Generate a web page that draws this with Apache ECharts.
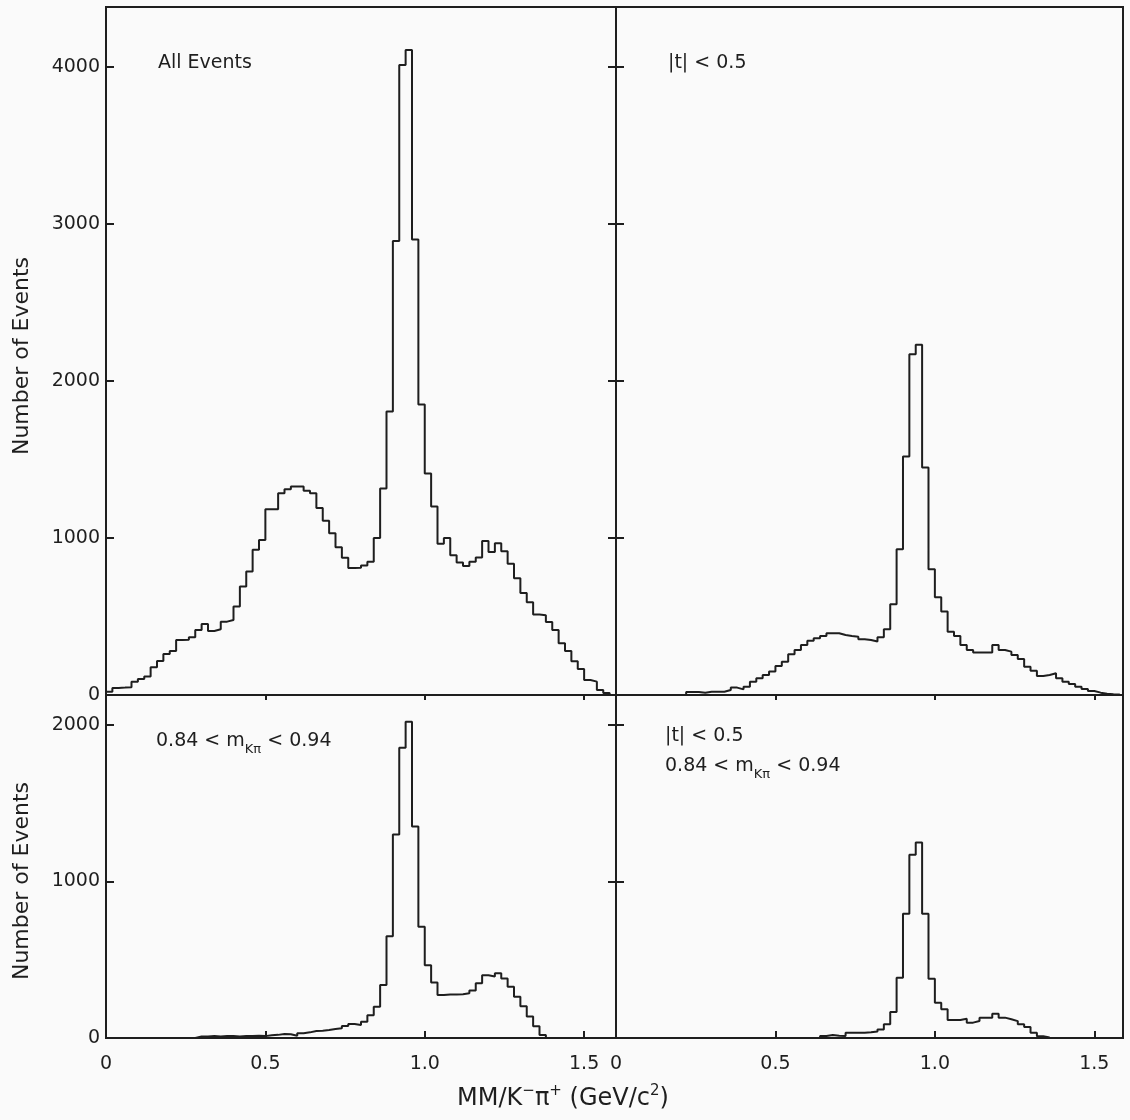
<!DOCTYPE html>
<html>
<head>
<meta charset="utf-8">
<script src="https://cdn.jsdelivr.net/npm/echarts@6/dist/echarts.min.js"></script>
<style>
html,body{margin:0;padding:0;background:#fafafa;}
#c{width:1130px;height:1120px;}
</style>
</head>
<body>
<div id="c"></div>
<script>
// ---- data (histograms, bin width 0.02 GeV/c^2, first bin starts at 0) ----
const binWidth = 0.02;
const binStart = 0.0;

const allEvents = [
  20,45,47,50,85,102,117,176,217,261,
  280,350,352,367,414,452,408,418,467,478,
  563,690,786,924,987,1182,1182,1284,1310,1327,
  1327,1300,1284,1190,1110,1030,940,873,808,810,
  825,849,1000,1314,1805,2890,4010,4106,2900,1850,
  1410,1200,963,1000,890,843,822,849,876,980,
  910,966,915,835,743,650,590,512,508,465,
  414,329,280,215,165,95,85,32,12,0
];
const tCutEvents = [
  0,0,0,0,0,0,0,0,0,0,
  0,19,19,15,21,21,21,32,47,36,
  53,85,106,127,149,185,212,259,287,318,
  346,361,376,393,393,382,376,371,355,350,
  340,367,418,577,928,1518,2170,2230,1448,800,
  622,531,403,376,318,287,270,270,270,318,
  287,276,255,229,180,155,121,127,138,106,
  85,70,53,38,25,15,8,5,3,0
];
const mCutEvents = [
  0,0,0,0,0,0,0,0,0,0,
  0,0,0,0,10,10,12,10,12,12,
  10,12,12,14,12,17,20,25,24,15,
  30,36,45,47,51,57,62,76,89,83,
  104,146,200,338,650,1300,1853,2020,1350,710,
  465,355,274,278,278,280,285,304,350,401,
  393,414,380,327,263,203,137,75,19,0,
  0,0,0,0,0,0,0,0,0,0
];
const tmCutEvents = [
  0,0,0,0,0,0,0,0,0,0,
  0,0,0,0,0,0,0,0,0,0,
  0,0,0,0,0,0,0,0,0,0,
  0,0,13,19,15,13,34,34,34,36,
  42,55,87,166,384,794,1170,1248,794,378,
  225,183,115,115,123,98,108,130,130,155,
  130,120,108,87,70,34,11,4,0,0,
  0,0,0,0,0,0,0,0,0,0
];

const xTickValues = [0, 0.5, 1.0, 1.5];
const yTickValuesTop = [0, 1000, 2000, 3000, 4000];
const yTickValuesBottom = [0, 1000, 2000];
const yAxisTitle = 'Number of Events';

// ---- helpers ----
const INK = '#1e1e1e';
const FONT = 'DejaVu Sans';

function edge(k) { return +(binStart + k * binWidth).toFixed(4); }

function histPoints(counts) {
  let i0 = counts.findIndex(v => v > 0);
  let i1 = counts.length - 1;
  while (i1 > 0 && counts[i1] === 0) i1--;
  const pts = [[edge(i0), 0]];
  for (let k = i0; k <= i1; k++) pts.push([edge(k), counts[k]]);
  pts.push([edge(i1 + 1), 0]);
  return pts;
}

const tickLine = { color: INK, width: 2 };

function xAxisCfg(grid, max, bottomRow) {
  return {
    gridIndex: grid, type: 'value', min: 0, max: max, interval: 0.5,
    axisLine: { show: false }, splitLine: { show: false },
    axisTick: {
      show: true, inside: bottomRow, length: bottomRow ? 7 : 5,
      customValues: [0.5, 1.0, 1.5], lineStyle: tickLine
    },
    axisLabel: {
      show: bottomRow, customValues: xTickValues, margin: 17,
      fontSize: 19, color: INK, fontFamily: FONT,
      formatter: v => (v === 0 ? '0' : v.toFixed(1))
    }
  };
}

function yAxisCfg(grid, max, labels, inside, tickVals) {
  return {
    gridIndex: grid, type: 'value', position: 'left', min: 0, max: max, interval: 1000,
    axisLine: { show: false }, splitLine: { show: false },
    axisTick: { show: true, inside: inside, length: 8, customValues: tickVals, lineStyle: tickLine },
    axisLabel: labels ? {
      show: true, customValues: labels, margin: 6, fontSize: 19, color: INK, fontFamily: FONT,
      formatter: v => String(Math.round(v))
    } : { show: false }
  };
}

const gridStyle = { show: true, borderWidth: 2, borderColor: INK, backgroundColor: 'transparent', containLabel: false };

const topMax = 4380, bottomMax = 2190;
const topTicks = yTickValuesTop.slice(1);
const bottomTicks = yTickValuesBottom.slice(1);

function seriesCfg(idx, yIdx, counts) {
  return {
    type: 'line', xAxisIndex: idx, yAxisIndex: yIdx, data: histPoints(counts),
    step: 'end', showSymbol: false, symbol: 'none',
    lineStyle: { color: INK, width: 2 }, silent: true, clip: true
  };
}

const chart = echarts.init(document.getElementById('c'), null, { renderer: 'canvas' });

const subRich = {
  n: { fontSize: 19, lineHeight: 30, fontFamily: FONT, fill: INK },
  sub: { fontSize: 13, lineHeight: 12, verticalAlign: 'bottom', fontFamily: FONT, fill: INK }
};

chart.setOption({
  backgroundColor: '#fafafa',
  animation: false,
  textStyle: { fontFamily: FONT },
  grid: [
    Object.assign({ left: 106, top: 7, width: 510, height: 688 }, gridStyle),
    Object.assign({ left: 616, top: 7, width: 507, height: 688 }, gridStyle),
    Object.assign({ left: 106, top: 695, width: 510, height: 343 }, gridStyle),
    Object.assign({ left: 616, top: 695, width: 507, height: 343 }, gridStyle)
  ],
  xAxis: [
    xAxisCfg(0, 1.6, false),
    xAxisCfg(1, 1.59, false),
    xAxisCfg(2, 1.6, true),
    xAxisCfg(3, 1.59, true)
  ],
  yAxis: [
    yAxisCfg(0, topMax, yTickValuesTop, true, topTicks),
    yAxisCfg(1, topMax, null, true, topTicks),
    yAxisCfg(1, topMax, null, false, topTicks),
    yAxisCfg(2, bottomMax, yTickValuesBottom, true, bottomTicks),
    yAxisCfg(3, bottomMax, null, true, bottomTicks),
    yAxisCfg(3, bottomMax, null, false, bottomTicks)
  ],
  series: [
    seriesCfg(0, 0, allEvents),
    seriesCfg(1, 1, tCutEvents),
    seriesCfg(2, 3, mCutEvents),
    seriesCfg(3, 4, tmCutEvents)
  ],
  graphic: [
    { type: 'text', x: 158, y: 63, style: { text: 'All Events', fontSize: 19, fontFamily: FONT, fill: INK, verticalAlign: 'middle' } },
    { type: 'text', x: 668, y: 63, style: { text: '|t| < 0.5', fontSize: 19, fontFamily: FONT, fill: INK, verticalAlign: 'middle' } },
    { type: 'text', x: 156, y: 741, style: {
        text: '{n|0.84 < m}{sub|K\u03c0}{n| < 0.94}', fontFamily: FONT, fill: INK, verticalAlign: 'middle', rich: subRich } },
    { type: 'text', x: 665, y: 736, style: { text: '|t| < 0.5', fontSize: 19, fontFamily: FONT, fill: INK, verticalAlign: 'middle' } },
    { type: 'text', x: 665, y: 766, style: {
        text: '{n|0.84 < m}{sub|K\u03c0}{n| < 0.94}', fontFamily: FONT, fill: INK, verticalAlign: 'middle', rich: subRich } },
    { type: 'text', x: 563, y: 1099, style: {
        text: '{n|MM/K}{sup|\u2212}{n|\u03c0}{sup|+}{n| (GeV/c}{sup|2}{n|)}', fontFamily: FONT, fill: INK,
        align: 'center', verticalAlign: 'middle',
        rich: { n: { fontSize: 24, lineHeight: 30, fontFamily: FONT, fill: INK },
                sup: { fontSize: 15, lineHeight: 15, verticalAlign: 'top', fontFamily: FONT, fill: INK } } } },
    { type: 'text', x: 22, y: 356, rotation: Math.PI / 2, style: { text: yAxisTitle, fontSize: 22, fontFamily: FONT, fill: INK, align: 'center', verticalAlign: 'middle' } },
    { type: 'text', x: 22, y: 881, rotation: Math.PI / 2, style: { text: yAxisTitle, fontSize: 22, fontFamily: FONT, fill: INK, align: 'center', verticalAlign: 'middle' } }
  ]
});
</script>
</body>
</html>
